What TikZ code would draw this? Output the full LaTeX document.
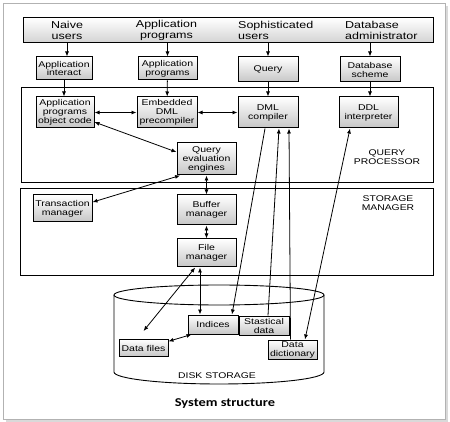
\documentclass[tikz,border=0pt]{standalone}
\usepackage{fontspec}
\setmainfont[FakeStretch=1.25]{Liberation Sans}
\newfontfamily\capfont[FakeStretch=1.2]{Carlito}
\usetikzlibrary{arrows.meta}

\begin{document}
\begin{tikzpicture}[x=1pt, y=-1pt,
    box/.style n args={2}{draw, line width=1pt, top color=white, bottom color=gray!45,
      minimum width=#1, minimum height=#2, inner sep=0pt, align=center,
      font=\fontsize{8.4}{9}\selectfont},
    bartext/.style={align=center, inner sep=0pt, font=\fontsize{10}{11}\selectfont},
    part/.style={draw, line width=0.9pt},
    label/.style={align=center, inner sep=0pt, font=\fontsize{8.3}{9}\selectfont},
    arr/.style={-{Latex[length=5pt,width=4pt]}, line width=0.8pt},
    dbl/.style={{Latex[length=5pt,width=4pt]}-{Latex[length=5pt,width=4pt]}, line width=0.8pt}]
    \fill[white] (0,0) rectangle (450,422);
    \useasboundingbox (0,0) rectangle (450,422);
    \draw[gray!30, line width=2.5pt] (447,6) -- (447,421) -- (6,421);
    \draw[gray!60, line width=0.8pt] (3,3) rectangle (445,419);
    \draw[part] (21,87) rectangle (433,182);
    \draw[part] (20,188) rectangle (433,275);
    \node[label] (qplabel) at (387,157) {QUERY\\PROCESSOR};
    \node[label] (smlabel) at (388,203) {STORAGE\\MANAGER};
    \node[draw, line width=1pt, top color=white, bottom color=gray!35, minimum width=410, minimum height=25, inner sep=0pt] (users) at (228,30.5) {};
    \node[bartext] (naive) at (67,30.5) {Naive\\users};
    \node[bartext] (programmers) at (166.5,30.5) {Application\\programs};
    \node[bartext, align=left, anchor=west] (sophisticated) at (238,30.5) {Sophisticated\\users};
    \node[bartext, align=left, anchor=west] (dba) at (345,30.5) {Database\\administrator};
    \node[box={56}{23}] (ainter) at (64,68.5) {Application\\interact};
    \node[box={59}{23}] (aprog) at (167.5,68.5) {Application\\programs};
    \node[box={60}{25}] (query) at (268,69.5) {Query};
    \node[box={60}{25}] (scheme) at (370,69.5) {Database\\scheme};
    \node[box={58}{31}] (objcode) at (65,112.5) {Application\\programs\\object code};
    \node[box={60}{31}] (precomp) at (167,112.5) {Embedded\\DML\\precompiler};
    \node[box={60}{31}] (dmlcomp) at (268,112.5) {DML\\compiler};
    \node[box={59}{31}] (ddlinterp) at (368.5,112.5) {DDL\\interpreter};
    \node[box={59}{32}] (queryeval) at (206.5,159) {Query\\evaluation\\engines};
    \node[box={59}{27}] (transaction) at (62.5,208.5) {Transaction\\manager};
    \node[box={59}{30}] (buffer) at (206.5,210) {Buffer\\manager};
    \node[box={59}{28}] (filemgr) at (206.5,253) {File\\manager};
    \draw[part, fill=white] (114,295) -- (114,372) arc[start angle=180, end angle=360, x radius=105pt, y radius=12pt] -- (324,295);
    \draw[part, fill=white] (219,295) ellipse[x radius=105pt, y radius=10pt];
    \node[label] (disklabel) at (217,376) {DISK STORAGE};
    \node[box={50}{19}] (indices) at (213,324.5) {Indices};
    \node[box={50}{19}] (statdata) at (264,325.5) {Stastical\\data};
    \node[box={49}{17}] (datafiles) at (143.5,348) {Data files};
    \node[box={49}{19}] (datadict) at (292.5,349.5) {Data\\dictionary};
    \node[font=\capfont\bfseries\fontsize{12}{13}\selectfont, inner sep=0pt] (caption) at (225,404) {System structure};
    \draw[arr] (users.south -| naive) -- (ainter.north -| naive);
    \draw[arr] (users.south -| aprog) -- (aprog);
    \draw[arr] (users.south -| query) -- (query);
    \draw[arr] (users.south -| scheme) -- (scheme);
    \draw[arr] (ainter) -- (ainter.south |- objcode.north);
    \draw[arr] (aprog) -- (precomp);
    \draw[arr] (query) -- (dmlcomp);
    \draw[arr] (scheme) -- (scheme.south |- ddlinterp.north);
    \draw[dbl] (objcode) -- (precomp);
    \draw[dbl] (precomp) -- (dmlcomp);
    \draw[dbl] (objcode.-18) -- (queryeval.167);
    \draw[dbl] (queryeval.212) -- (transaction.12);
    \draw[dbl] (queryeval) -- (buffer);
    \draw[dbl] (buffer) -- (filemgr);
    \draw[dbl] (filemgr.232) -- ([yshift=8pt]datafiles.north);
    \draw[dbl] ([xshift=-6.5pt]filemgr.south) -- ([xshift=-6.5pt]filemgr.south |- indices.north);
    \draw[dbl] (datafiles.15) -- (indices.205);
    \draw[arr] ([xshift=-3pt]dmlcomp.south) -- ([xshift=19pt]indices.north);
    \draw[arr] ([xshift=4pt]statdata.north) -- ([xshift=11pt]dmlcomp.south);
    \draw[arr] ([xshift=-2pt]datadict.north) -- ([xshift=21pt]dmlcomp.south);
    \draw[dbl] ([xshift=-18.5pt]ddlinterp.south) -- ([xshift=12.5pt]datadict.north);
\end{tikzpicture}
\end{document}
